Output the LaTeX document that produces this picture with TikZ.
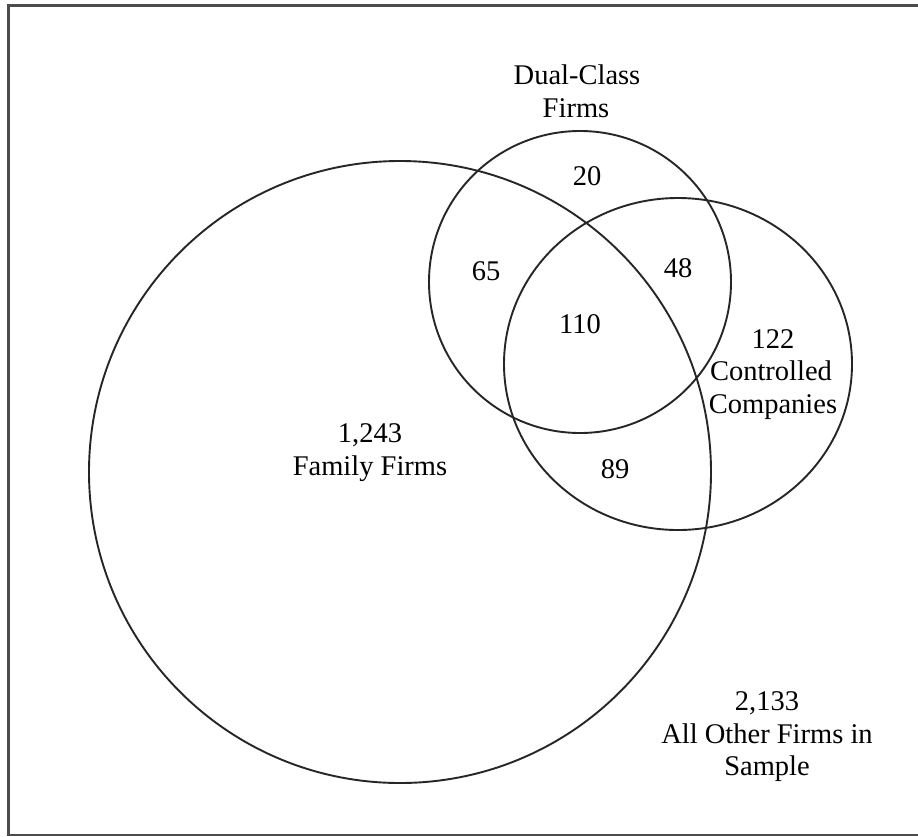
\documentclass[tikz,border=0pt]{standalone}
\usepackage{fontspec}
\setmainfont{Liberation Serif}
\begin{document}
\begin{tikzpicture}[x=1pt,y=-1pt,
  venn/.style={line width=1.9pt,draw=black!85},
  lbl/.style={anchor=base,inner sep=0pt,font=\fontsize{28.5}{33}\selectfont}]
\useasboundingbox (0,0) rectangle (918,836);
\fill[white] (0,0) rectangle (918,836);
\draw[line width=2.5pt,draw=black!70] (8.5,5.5) rectangle (925,835);
% circles
\draw[venn] (400,472) circle[radius=311];
\draw[venn] (580,282) circle[radius=151];
\draw[venn] (678,364) ellipse[x radius=174, y radius=166];
% labels
\node[lbl] (dc1) at (577,84) {Dual-Class};
\node[lbl] (dc2) at (576,117) {Firms};
\node[lbl] (n20) at (587,185) {20};
\node[lbl] (n65) at (486,280) {65};
\node[lbl] (n48) at (678,277) {48};
\node[lbl] (n110) at (580,333) {110};
\node[lbl] (n122) at (773,348) {122};
\node[lbl] (cc1) at (771,380) {Controlled};
\node[lbl] (cc2) at (773,413) {Companies};
\node[lbl] (ff1) at (370,442) {1,243};
\node[lbl] (ff2) at (370,475) {Family Firms};
\node[lbl] (n89) at (615,478) {89};
\node[lbl] (ao1) at (767,710) {2,133};
\node[lbl] (ao2) at (767,743) {All Other Firms in};
\node[lbl] (ao3) at (767,775) {Sample};
\end{tikzpicture}
\end{document}
